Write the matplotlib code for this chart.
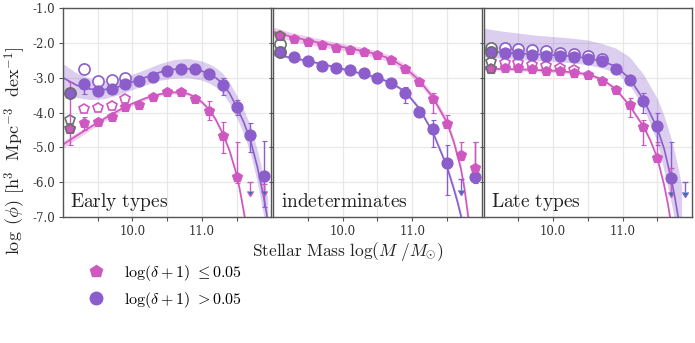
import numpy as np
import matplotlib.pyplot as plt
from matplotlib.lines import Line2D
from matplotlib.ticker import FormatStrFormatter, FixedLocator

plt.rcParams['font.family'] = 'DejaVu Serif'
plt.rcParams['mathtext.fontset'] = 'cm'
plt.rcParams['axes.unicode_minus'] = False

PINK = '#cf58c0'
PURPLE = '#8b5ecb'
GREY = '#6e6e6e'

panel_names = ['Early types', 'indeterminates', 'Late types']
mass_bins = [9.1, 9.3, 9.5, 9.7, 9.9, 10.1, 10.3, 10.5, 10.7, 10.9, 11.1, 11.3, 11.5, 11.7, 11.9]

# ---- Early types ----
early_lo_x = mass_bins[:13]
early_lo_y = [-4.47, -4.29, -4.28, -4.12, -3.83, -3.79, -3.55, -3.42, -3.42, -3.61, -3.95, -4.67, -5.86]
early_lo_dn = [0.45, 0.20, 0.06, 0.05, 0.05, 0.05, 0.05, 0.05, 0.05, 0.08, 0.25, 0.48, 0.15]
early_lo_up = [1.35, 0.15, 0.06, 0.05, 0.05, 0.05, 0.05, 0.05, 0.05, 0.08, 0.27, 0.40, 1.02]
early_lo_lim_x = [11.7, 11.9]
early_lo_lim_y = [-6.0, -6.05]
early_lo_lim_len = [0.24, 0.20]
early_hi_x = mass_bins
early_hi_y = [-3.44, -3.18, -3.39, -3.33, -3.18, -3.09, -2.99, -2.80, -2.74, -2.74, -2.90, -3.20, -3.84, -4.65, -5.82]
early_hi_dn = [0.10, 0.30, 0.06, 0.05, 0.05, 0.05, 0.05, 0.05, 0.05, 0.05, 0.10, 0.30, 0.23, 0.48, 0.88]
early_hi_up = [0.10, 0.10, 0.06, 0.05, 0.05, 0.05, 0.05, 0.05, 0.05, 0.05, 0.10, 0.19, 0.20, 0.36, 1.01]
early_hi_lim_x = []
early_hi_lim_y = []
early_hi_lim_len = []
early_lo_open_x = [9.1, 9.3, 9.5, 9.7, 9.9]
early_lo_open_y = [-4.20, -3.91, -3.88, -3.80, -3.61]
early_hi_open_x = [9.3, 9.5, 9.7, 9.9]
early_hi_open_y = [-2.75, -3.09, -3.08, -3.02]

early_lo_fit_x = [9.0, 9.2, 9.4, 9.6, 9.8, 10.0, 10.2, 10.4, 10.6, 10.8, 10.9, 11.0, 11.1, 11.2, 11.3, 11.4, 11.5, 11.55, 11.6, 11.65]
early_lo_fit = [-4.92, -4.66, -4.41, -4.17, -3.94, -3.74, -3.58, -3.47, -3.42, -3.46, -3.55, -3.70, -3.90, -4.20, -4.60, -5.10, -5.78, -6.25, -6.80, -7.40]
early_lo_fit_hi = [-4.82, -4.57, -4.33, -4.10, -3.88, -3.69, -3.53, -3.42, -3.37, -3.41, -3.50, -3.65, -3.85, -4.14, -4.53, -5.02, -5.68, -6.13, -6.66, -7.24]
early_lo_fit_lo = [-5.02, -4.75, -4.49, -4.24, -4.00, -3.79, -3.63, -3.52, -3.47, -3.51, -3.60, -3.75, -3.95, -4.26, -4.67, -5.18, -5.88, -6.37, -6.94, -7.56]
early_hi_fit_x = [9.0, 9.2, 9.4, 9.6, 9.8, 10.0, 10.2, 10.4, 10.6, 10.8, 11.0, 11.1, 11.2, 11.3, 11.4, 11.5, 11.6, 11.7, 11.8, 11.9, 11.95]
early_hi_fit = [-3.00, -3.22, -3.33, -3.34, -3.26, -3.12, -2.98, -2.84, -2.76, -2.74, -2.81, -2.89, -3.00, -3.17, -3.45, -3.83, -4.26, -4.79, -5.56, -6.51, -7.10]
early_hi_fit_hi = [-2.60, -2.87, -3.03, -3.08, -3.03, -2.90, -2.75, -2.59, -2.48, -2.45, -2.52, -2.60, -2.71, -2.87, -3.14, -3.50, -3.90, -4.38, -5.08, -5.94, -6.48]
early_hi_fit_lo = [-3.40, -3.57, -3.63, -3.60, -3.49, -3.34, -3.20, -3.07, -3.01, -3.00, -3.07, -3.15, -3.27, -3.45, -3.74, -4.14, -4.60, -5.17, -6.01, -7.06, -7.70]

# ---- indeterminates ----
ind_lo_x = mass_bins
ind_lo_y = [-1.80, -1.90, -1.97, -2.06, -2.14, -2.21, -2.25, -2.35, -2.49, -2.76, -3.11, -3.62, -4.34, -5.21, -5.58]
ind_lo_dn = [0.05, 0.05, 0.05, 0.05, 0.05, 0.05, 0.05, 0.05, 0.05, 0.06, 0.10, 0.38, 0.11, 0.15, 0.17]
ind_lo_up = [0.05, 0.05, 0.05, 0.05, 0.05, 0.05, 0.05, 0.05, 0.05, 0.06, 0.08, 0.17, 0.27, 0.37, 0.74]
ind_lo_lim_x = []
ind_lo_lim_y = []
ind_lo_lim_len = []
ind_hi_x = mass_bins[:13] + [11.9]
ind_hi_y = [-2.27, -2.40, -2.52, -2.66, -2.73, -2.78, -2.86, -3.02, -3.16, -3.45, -3.98, -4.47, -5.44, -5.86]
ind_hi_dn = [0.05, 0.05, 0.05, 0.05, 0.05, 0.05, 0.05, 0.05, 0.05, 0.29, 0.12, 0.53, 0.93, 0.17]
ind_hi_up = [0.05, 0.05, 0.05, 0.05, 0.05, 0.05, 0.05, 0.05, 0.05, 0.19, 0.10, 0.27, 0.51, 1.02]
ind_hi_lim_x = [11.7]
ind_hi_lim_y = [-5.9]
ind_hi_lim_len = [0.33]
ind_lo_open_x = []
ind_lo_open_y = []
ind_hi_open_x = [9.1]
ind_hi_open_y = [-2.04]

ind_lo_fit_x = [9.0, 9.25, 9.5, 9.75, 10.0, 10.25, 10.5, 10.7, 10.9, 11.1, 11.3, 11.5, 11.6, 11.7, 11.75, 11.8, 11.85]
ind_lo_fit = [-1.68, -1.82, -1.93, -2.03, -2.12, -2.22, -2.33, -2.47, -2.72, -3.07, -3.57, -4.28, -4.85, -5.60, -6.15, -6.90, -7.50]
ind_lo_fit_hi = [-1.55, -1.70, -1.81, -1.92, -2.02, -2.12, -2.23, -2.37, -2.62, -2.97, -3.47, -4.17, -4.73, -5.46, -6.00, -6.74, -7.33]
ind_lo_fit_lo = [-1.81, -1.94, -2.05, -2.14, -2.22, -2.32, -2.43, -2.57, -2.82, -3.17, -3.67, -4.39, -4.97, -5.74, -6.30, -7.06, -7.67]
ind_hi_fit_x = [9.0, 9.25, 9.5, 9.75, 10.0, 10.25, 10.5, 10.7, 10.9, 11.1, 11.3, 11.5, 11.6, 11.65, 11.7, 11.75]
ind_hi_fit = [-2.33, -2.42, -2.52, -2.63, -2.75, -2.87, -3.00, -3.15, -3.40, -3.88, -4.58, -5.55, -6.20, -6.55, -6.95, -7.40]
ind_hi_fit_hi = [-2.29, -2.38, -2.48, -2.59, -2.71, -2.83, -2.96, -3.11, -3.35, -3.82, -4.51, -5.46, -6.09, -6.43, -6.82, -7.26]
ind_hi_fit_lo = [-2.37, -2.46, -2.56, -2.67, -2.79, -2.91, -3.04, -3.19, -3.45, -3.94, -4.65, -5.64, -6.31, -6.67, -7.08, -7.54]

# ---- Late types ----
late_lo_x = mass_bins[:13]
late_lo_y = [-2.75, -2.73, -2.73, -2.76, -2.80, -2.81, -2.86, -2.92, -3.10, -3.35, -3.78, -4.41, -5.30]
late_lo_dn = [0.05, 0.05, 0.05, 0.05, 0.05, 0.05, 0.05, 0.05, 0.05, 0.10, 0.34, 0.52, 0.06]
late_lo_up = [0.05, 0.05, 0.05, 0.05, 0.05, 0.05, 0.05, 0.05, 0.05, 0.10, 0.19, 0.19, 0.46]
late_lo_lim_x = [11.7]
late_lo_lim_y = [-5.6]
late_lo_lim_len = [0.67]
late_hi_x = mass_bins[:14]
late_hi_y = [-2.27, -2.30, -2.33, -2.35, -2.37, -2.37, -2.40, -2.45, -2.52, -2.75, -3.07, -3.68, -4.39, -5.89]
late_hi_dn = [0.05, 0.05, 0.05, 0.05, 0.05, 0.05, 0.05, 0.05, 0.05, 0.05, 0.10, 0.34, 0.54, 0.41]
late_hi_up = [0.05, 0.05, 0.05, 0.05, 0.05, 0.05, 0.05, 0.05, 0.05, 0.05, 0.10, 0.23, 0.37, 1.05]
late_hi_lim_x = [11.9]
late_hi_lim_y = [-6.0]
late_hi_lim_len = [0.27]
late_lo_open_x = [9.1, 9.3, 9.5, 9.7, 9.9, 10.1, 10.3]
late_lo_open_y = [-2.54, -2.57, -2.58, -2.63, -2.67, -2.71, -2.77]
late_hi_open_x = [9.1, 9.3, 9.5, 9.7, 9.9, 10.1, 10.3, 10.5, 10.7]
late_hi_open_y = [-2.16, -2.15, -2.17, -2.20, -2.24, -2.28, -2.32, -2.37, -2.45]

late_lo_fit_x = [9.0, 9.25, 9.5, 9.75, 10.0, 10.25, 10.5, 10.7, 10.9, 11.1, 11.3, 11.4, 11.5, 11.6, 11.65, 11.7]
late_lo_fit = [-2.74, -2.75, -2.76, -2.78, -2.80, -2.84, -2.90, -3.04, -3.32, -3.80, -4.40, -4.80, -5.30, -6.10, -6.60, -7.20]
late_lo_fit_hi = [-2.69, -2.70, -2.71, -2.73, -2.75, -2.79, -2.85, -2.99, -3.27, -3.75, -4.34, -4.73, -5.22, -6.00, -6.48, -7.06]
late_lo_fit_lo = [-2.79, -2.80, -2.81, -2.83, -2.85, -2.89, -2.95, -3.09, -3.37, -3.85, -4.46, -4.87, -5.38, -6.20, -6.72, -7.34]
late_hi_fit_x = [9.0, 9.25, 9.5, 9.75, 10.0, 10.25, 10.5, 10.7, 10.9, 11.1, 11.3, 11.5, 11.6, 11.7, 11.75, 11.8, 11.85]
late_hi_fit = [-2.22, -2.27, -2.30, -2.33, -2.35, -2.38, -2.44, -2.53, -2.67, -3.02, -3.62, -4.45, -5.05, -5.90, -6.40, -7.00, -7.60]
late_hi_fit_hi = [-1.58, -1.66, -1.72, -1.78, -1.82, -1.86, -1.92, -2.02, -2.15, -2.40, -2.90, -3.60, -4.10, -4.75, -5.15, -5.60, -6.10]
late_hi_fit_lo = [-2.40, -2.45, -2.48, -2.51, -2.54, -2.57, -2.63, -2.72, -2.85, -3.20, -3.85, -4.85, -5.70, -6.60, -7.10, -7.60, -8.10]

panel_data = [
    dict(lo=(early_lo_x, early_lo_y, early_lo_dn, early_lo_up, early_lo_lim_x, early_lo_lim_y, early_lo_lim_len,
             early_lo_open_x, early_lo_open_y, early_lo_fit_x, early_lo_fit, early_lo_fit_lo, early_lo_fit_hi),
         hi=(early_hi_x, early_hi_y, early_hi_dn, early_hi_up, early_hi_lim_x, early_hi_lim_y, early_hi_lim_len,
             early_hi_open_x, early_hi_open_y, early_hi_fit_x, early_hi_fit, early_hi_fit_lo, early_hi_fit_hi)),
    dict(lo=(ind_lo_x, ind_lo_y, ind_lo_dn, ind_lo_up, ind_lo_lim_x, ind_lo_lim_y, ind_lo_lim_len,
             ind_lo_open_x, ind_lo_open_y, ind_lo_fit_x, ind_lo_fit, ind_lo_fit_lo, ind_lo_fit_hi),
         hi=(ind_hi_x, ind_hi_y, ind_hi_dn, ind_hi_up, ind_hi_lim_x, ind_hi_lim_y, ind_hi_lim_len,
             ind_hi_open_x, ind_hi_open_y, ind_hi_fit_x, ind_hi_fit, ind_hi_fit_lo, ind_hi_fit_hi)),
    dict(lo=(late_lo_x, late_lo_y, late_lo_dn, late_lo_up, late_lo_lim_x, late_lo_lim_y, late_lo_lim_len,
             late_lo_open_x, late_lo_open_y, late_lo_fit_x, late_lo_fit, late_lo_fit_lo, late_lo_fit_hi),
         hi=(late_hi_x, late_hi_y, late_hi_dn, late_hi_up, late_hi_lim_x, late_hi_lim_y, late_hi_lim_len,
             late_hi_open_x, late_hi_open_y, late_hi_fit_x, late_hi_fit, late_hi_fit_lo, late_hi_fit_hi)),
]

styles = {'lo': (PINK, 'p', 7.5, 0.3), 'hi': (PURPLE, 'o', 8, 0.3)}

fig, axes = plt.subplots(1, 3, figsize=(6.95, 3.43), dpi=100, sharey=True)
fig.subplots_adjust(left=0.0906, right=0.9957, top=0.9767, bottom=0.367, wspace=0.01)

for ax, name, pdata in zip(axes, panel_names, panel_data):
    for key in ['hi', 'lo']:
        col, mk, ms, alpha = styles[key]
        (x, y, dn, up, lx, ly, llen, ox, oy, fx, fy, flo, fhi) = pdata[key]
        ax.fill_between(fx, flo, fhi, color=col, alpha=alpha, lw=0, zorder=1)
        ax.plot(fx, fy, color=col, lw=1.2, zorder=2)
        # open symbols (other sample)
        for xi, yi in zip(ox, oy):
            ec = GREY if xi < 9.2 else col
            ax.plot([xi], [yi], ls='', marker=mk, ms=ms, mfc='white', mec=ec, mew=1.2, zorder=3)
        ax.errorbar(x, y, yerr=[dn, up], fmt=mk, ms=ms, color=col, mec=col, mew=0.8,
                    elinewidth=1.0, capsize=1.8, capthick=1.0, zorder=4)
        ax.plot(x[:1], y[:1], ls='', marker=mk, ms=ms, mfc=col, mec=GREY, mew=1.2, zorder=5)
        if len(lx):
            ax.errorbar(lx, ly, yerr=llen, uplims=True, fmt='none', ecolor=col,
                        elinewidth=1.0, capsize=2.5, capthick=1.0, zorder=4)

    ax.set_xlim(9.0, 12.0)
    ax.set_ylim(-7.0, -1.0)
    ax.xaxis.set_major_locator(FixedLocator([10.0, 11.0]))
    ax.xaxis.set_minor_locator(FixedLocator([9.5, 10.5, 11.5]))
    ax.xaxis.set_major_formatter(FormatStrFormatter('%.1f'))
    ax.yaxis.set_major_formatter(FormatStrFormatter('%.1f'))
    ax.set_yticks(np.arange(-7.0, -0.9, 1.0))
    ax.grid(True, which='both', color='#e8e8e8', lw=0.9, zorder=0)
    ax.set_axisbelow(True)
    ax.tick_params(which='both', direction='out', length=3, width=0.8, color='#555555',
                   labelsize=8.5, labelcolor='#333333', pad=2.5)
    for sp in ax.spines.values():
        sp.set_color('#555555')
        sp.set_linewidth(1.0)
    ax.text(0.035, 0.05, r'$\mathrm{' + name.replace(' ', r'\ ') + '}$', transform=ax.transAxes,
            fontsize=14, color='#222222', ha='left', va='baseline')

for ax in axes[1:]:
    ax.tick_params(axis='y', labelleft=False)

fig.text(0.022, 0.56, r'$\log\ (\phi)\ [\mathrm{h}^3\ \ \mathrm{Mpc}^{-3}\ \ \mathrm{dex}^{-1}]$',
         rotation=90, ha='center', va='center', fontsize=13, color='#222222')
fig.text(0.5, 0.266, r'$\mathrm{Stellar\ Mass}\ \log(M\ /M_{\odot})$',
         ha='center', va='center', fontsize=12.5, color='#222222')

handles = [Line2D([], [], ls='', marker='p', ms=9, color=PINK),
           Line2D([], [], ls='', marker='o', ms=9, color=PURPLE)]
labels = [r'$\log(\delta+1)\ {\leq} 0.05$', r'$\log(\delta+1)\ {>} 0.05$']
fig.legend(handles, labels, loc='upper left', bbox_to_anchor=(0.1055, 0.275), frameon=False,
           fontsize=11.5, handlelength=1.0, handletextpad=1.25, labelspacing=0.42,
           borderpad=0.4)

fig.savefig('out.png', dpi=100)
